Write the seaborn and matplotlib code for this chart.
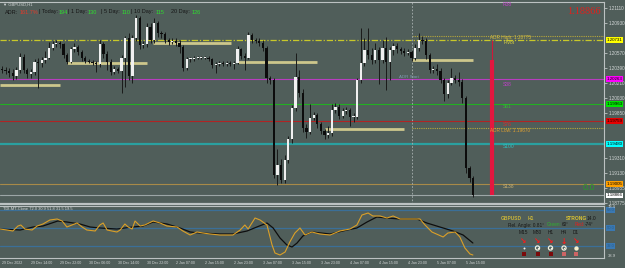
import numpy as np
import matplotlib
matplotlib.use("Agg")
import matplotlib.pyplot as plt
import seaborn as sns

# ---- GBPUSD H1 candles, bar 0 = 29 Dec 06:00 ----
opens = [1.2038, 1.2037, 1.2036, 1.2034, 1.2030, 1.2037, 1.2053, 1.2037, 1.2032, 1.2035,
         1.2047, 1.2046, 1.2049, 1.2052, 1.2064, 1.2068, 1.2070, 1.2068, 1.2055, 1.2047,
         1.2062, 1.2065, 1.2059, 1.2052, 1.2048, 1.2047, 1.2046, 1.2044, 1.2068, 1.2056,
         1.2047, 1.2035, 1.2038, 1.2036, 1.2052, 1.2075, 1.2030, 1.2075, 1.2100, 1.2067,
         1.2068, 1.2089, 1.2073, 1.2094, 1.2081, 1.2080, 1.2073, 1.2071, 1.2072, 1.2070,
         1.2065, 1.2040, 1.2050, 1.2050, 1.2052, 1.2052, 1.2052, 1.2052, 1.2050, 1.2043,
         1.2044, 1.2046, 1.2044, 1.2046, 1.2044, 1.2046, 1.2062, 1.2054, 1.2052, 1.2079,
         1.2073, 1.2072, 1.2070, 1.2064, 1.2027, 1.2025, 1.1911, 1.1923, 1.1905, 1.1929,
         1.1954, 1.1992, 1.2029, 1.2010, 1.1968, 1.1963, 1.1980, 1.1983, 1.1972, 1.1964,
         1.1959, 1.1962, 1.1989, 1.1993, 1.1982, 1.1988, 1.1989, 1.1981, 1.1981, 1.2025,
         1.2046, 1.2061, 1.2055, 1.2049, 1.2061, 1.2049, 1.2064, 1.2047, 1.2061, 1.2066,
         1.2062, 1.2060, 1.2058, 1.2059, 1.2052, 1.2064, 1.2073, 1.2072, 1.2055, 1.2037,
         1.2038, 1.2036, 1.2025, 1.2008, 1.2022, 1.2027, 1.2025, 1.2023, 1.2003, 1.1919,
         1.1908]
highs = [1.2042, 1.2041, 1.2039, 1.2038, 1.2041, 1.2058, 1.2056, 1.2040, 1.2038, 1.2050,
         1.2052, 1.2053, 1.2060, 1.2071, 1.2072, 1.2073, 1.2072, 1.2070, 1.2057, 1.2065,
         1.2070, 1.2067, 1.2061, 1.2054, 1.2050, 1.2049, 1.2048, 1.2073, 1.2071, 1.2060,
         1.2050, 1.2042, 1.2041, 1.2055, 1.2078, 1.2081, 1.2079, 1.2103, 1.2102, 1.2072,
         1.2093, 1.2093, 1.2100, 1.2096, 1.2084, 1.2083, 1.2076, 1.2075, 1.2076, 1.2073,
         1.2067, 1.2053, 1.2053, 1.2054, 1.2054, 1.2054, 1.2054, 1.2054, 1.2052, 1.2047,
         1.2048, 1.2048, 1.2048, 1.2048, 1.2048, 1.2066, 1.2064, 1.2057, 1.2083, 1.2081,
         1.2076, 1.2075, 1.2073, 1.2066, 1.2030, 1.2027, 1.1942, 1.1930, 1.1935, 1.1958,
         1.1995, 1.2057, 1.2037, 1.2014, 1.1972, 1.1996, 1.1987, 1.1986, 1.1975, 1.1966,
         1.1970, 1.1996, 1.1998, 1.1996, 1.1992, 1.1993, 1.1992, 1.1985, 1.2028, 1.2088,
         1.2075, 1.2088, 1.2063, 1.2070, 1.2065, 1.2073, 1.2077, 1.2065, 1.2070, 1.2070,
         1.2065, 1.2063, 1.2062, 1.2061, 1.2068, 1.2081, 1.2078, 1.2075, 1.2058, 1.2042,
         1.2044, 1.2039, 1.2028, 1.2025, 1.2040, 1.2031, 1.2035, 1.2026, 1.2006, 1.1922,
         1.1910]
lows = [1.2033, 1.2032, 1.2029, 1.2025, 1.2026, 1.2034, 1.2033, 1.2028, 1.2028, 1.2031,
        1.2016, 1.2041, 1.2045, 1.2050, 1.2061, 1.2065, 1.2064, 1.2052, 1.2044, 1.2045,
        1.2059, 1.2055, 1.2048, 1.2045, 1.2045, 1.2043, 1.2035, 1.2041, 1.2052, 1.2037,
        1.2031, 1.2032, 1.2033, 1.2010, 1.2017, 1.2025, 1.2022, 1.2072, 1.2062, 1.2064,
        1.2065, 1.2069, 1.2070, 1.2077, 1.2076, 1.2069, 1.2067, 1.2068, 1.2066, 1.2058,
        1.2036, 1.2037, 1.2047, 1.2048, 1.2050, 1.2050, 1.2050, 1.2048, 1.2040, 1.2033,
        1.2042, 1.2042, 1.2042, 1.2042, 1.2038, 1.2044, 1.2050, 1.2037, 1.2050, 1.2070,
        1.2069, 1.2066, 1.2060, 1.2022, 1.2020, 1.1907, 1.1899, 1.1901, 1.1902, 1.1925,
        1.1950, 1.1988, 1.2005, 1.1963, 1.1955, 1.1960, 1.1977, 1.1968, 1.1960, 1.1954,
        1.1955, 1.1958, 1.1985, 1.1978, 1.1979, 1.1984, 1.1970, 1.1975, 1.1978, 1.2022,
        1.2042, 1.2050, 1.2044, 1.2045, 1.2020, 1.2045, 1.2013, 1.2025, 1.2055, 1.2058,
        1.2056, 1.2054, 1.2055, 1.2048, 1.2049, 1.2060, 1.2068, 1.2050, 1.2033, 1.2034,
        1.2031, 1.2021, 1.2000, 1.2004, 1.2019, 1.2021, 1.2018, 1.1998, 1.1914, 1.1903,
        1.1885]
closes = [1.2037, 1.2036, 1.2034, 1.2030, 1.2037, 1.2053, 1.2037, 1.2032, 1.2035, 1.2047,
          1.2046, 1.2049, 1.2052, 1.2064, 1.2068, 1.2070, 1.2068, 1.2055, 1.2047, 1.2062,
          1.2065, 1.2059, 1.2052, 1.2048, 1.2047, 1.2046, 1.2044, 1.2068, 1.2056, 1.2047,
          1.2035, 1.2038, 1.2036, 1.2052, 1.2075, 1.2030, 1.2075, 1.2100, 1.2067, 1.2068,
          1.2089, 1.2073, 1.2094, 1.2081, 1.2080, 1.2073, 1.2071, 1.2072, 1.2070, 1.2065,
          1.2040, 1.2050, 1.2050, 1.2052, 1.2052, 1.2052, 1.2052, 1.2050, 1.2043, 1.2044,
          1.2046, 1.2044, 1.2046, 1.2044, 1.2046, 1.2062, 1.2054, 1.2052, 1.2079, 1.2073,
          1.2072, 1.2070, 1.2064, 1.2027, 1.2025, 1.1911, 1.1923, 1.1905, 1.1929, 1.1954,
          1.1992, 1.2029, 1.2010, 1.1968, 1.1963, 1.1980, 1.1983, 1.1972, 1.1964, 1.1959,
          1.1962, 1.1989, 1.1993, 1.1982, 1.1988, 1.1989, 1.1981, 1.1981, 1.2025, 1.2046,
          1.2061, 1.2055, 1.2049, 1.2061, 1.2049, 1.2064, 1.2047, 1.2061, 1.2066, 1.2062,
          1.2060, 1.2058, 1.2059, 1.2052, 1.2064, 1.2073, 1.2072, 1.2055, 1.2037, 1.2038,
          1.2036, 1.2025, 1.2008, 1.2022, 1.2027, 1.2025, 1.2023, 1.2003, 1.1919, 1.1908,
          1.1887]

date_ticks = [0, 8, 16, 24, 32, 40, 48, 56, 64, 72, 80, 88, 96, 104, 112, 120, 128]
date_labels = ["29 Dec 2022", "29 Dec 14:00", "29 Dec 22:00", "30 Dec 06:00", "30 Dec 14:00",
               "30 Dec 22:00", "2 Jan 07:00", "2 Jan 15:00", "2 Jan 23:00", "3 Jan 07:00",
               "3 Jan 15:00", "3 Jan 23:00", "4 Jan 07:00", "4 Jan 15:00", "4 Jan 23:00",
               "5 Jan 07:00", "5 Jan 15:00"]
price_ticks = [1.18775, 1.18955, 1.19130, 1.19310, 1.19850, 1.20030, 1.20210,
               1.20390, 1.20570, 1.20930, 1.21110]

# pivot / fib levels
level_names = ["Pivot", "S38", "S61", "S76", "S100", "S138"]
level_prices = [1.20731, 1.20263, 1.19963, 1.19759, 1.19480, 1.19005]
level_colors = ["#c8c82a", "#b83cc0", "#22b022", "#b02424", "#2aa0a0", "#a88a48"]
tag_colors = ["#ffff00", "#ff00ff", "#00e600", "#e60000", "#00ffff", "#ffa000"]
adr_high = 1.20775
adr_low = 1.19670
adr_start_bar = 113
bid = 1.18866

# previous session high/low segments
seg_start = [-0.5, 18, 41.7, 65, 89, 113]
seg_end = [16, 40, 63.2, 87, 111, 130]
seg_price = [1.2019, 1.2046, 1.2070, 1.2047, 1.1966, 1.2049]

# today range bar
range_bar = 135.2
range_pivot = 1.20731
range_high = 1.2049

# TDI indicator
tdi_px = [-0.6, 1.4, 3.0, 4.4, 5.2, 6.3, 8.3, 9.7, 11.3, 13.2, 15.2, 16.6, 17.9, 19.3, 20.7,
          22.1, 23.4, 25.7, 27.0, 27.9, 29.0, 30.3, 31.7, 32.6, 33.9, 34.8, 35.9, 36.7, 38.1,
          39.4, 41.7, 43.6, 45.5, 48.3, 49.9, 51.9, 53.8, 55.4, 57.4, 60.1, 63.7, 65.7, 67.0,
          67.9, 69.8, 71.2, 73.1, 74.5, 75.3, 76.7, 78.1, 79.4, 80.8, 82.2, 83.6, 85.5, 87.7,
          90.5, 93.2, 96.0, 97.9, 99.3, 101.0, 102.3, 104.3, 106.2, 107.9, 109.8, 112.6,
          115.3, 116.7, 118.6, 121.7, 123.0, 125.0, 126.3, 127.7, 129.1, 129.9]
tdi_price = [49, 48, 47, 52, 53, 49, 48, 52, 54, 58, 59, 57, 51, 53, 55,
             51, 48, 47, 53, 55, 48, 47, 46, 48, 54, 51, 49, 57, 52,
             53, 57, 55, 52, 51, 47, 43, 46, 45, 44, 43, 43, 48, 53,
             49, 60, 58, 53, 33, 25, 23, 26, 36, 45, 50, 43, 46, 44,
             43, 47, 49, 53, 63, 65, 62, 62, 60, 62, 59, 59,
             59, 53, 46, 41, 45, 46, 41, 30, 24, 23]
tdi_sx = [-0.6, 5.0, 8.6, 11.3, 15.4, 17.9, 21.5, 24.3, 27.0, 31.7, 36.1, 38.9, 41.7, 45.5,
          49.1, 51.9, 54.6, 60.1, 63.7, 67.6, 70.3, 73.1, 74.8, 76.7, 78.6, 80.0, 81.4, 83.0,
          85.5, 90.5, 95.2, 97.9, 100.7, 103.4, 106.2, 109.8, 114.5, 117.2, 120.8, 124.4,
          127.2, 129.9]
tdi_signal = [49, 48, 51, 52, 57, 56, 54, 51, 50, 49, 51, 52, 56, 54,
              50, 46, 45, 44, 44, 47, 51, 55, 50, 40, 33, 31, 35, 42,
              46, 44, 48, 50, 56, 61, 60, 59, 59, 55, 51, 47,
              43, 35]
tdi_levels = [68, 50, 32]
tdi_level_tags = ["68.0", "50.0", "32.0"]

BG = "#505e5a"
LIGHT = "#d4d8d8"
DARK = "#161616"
sns.set_theme(style="dark", rc={"axes.facecolor": BG, "figure.facecolor": BG})
plt.rcParams["font.family"] = ["Liberation Sans", "DejaVu Sans"]

W, H = 625, 268
fig = plt.figure(figsize=(W / 100, H / 100), dpi=100)
ax = fig.add_axes([0, 1 - 204 / H, 604 / W, 202 / H])
ind = fig.add_axes([0, 1 - 258 / H, 604 / W, 52 / H])

xlim = (-0.55, 166.07)

# --- price panel ---
ax.set_xlim(*xlim)
ax.set_ylim(1.18763, 1.21187)
for p, col in zip(level_prices, level_colors):
    if p == level_prices[0]:
        ax.axhline(p, color=col, lw=0.9, ls=(0, (5, 1.5, 1, 1.5)), zorder=1)
    elif col == "#2aa0a0":
        ax.axhline(p, color=col, lw=1.6, zorder=1)
    else:
        ax.axhline(p, color=col, lw=0.8, zorder=1)
ax.axhline(bid, color="#9ca6a6", lw=0.8, zorder=1)
ax.hlines([adr_high, adr_low], adr_start_bar, xlim[1], color="#b8a83a", lw=0.8, ls=(0, (1, 1)), zorder=1)
ax.axvline(adr_start_bar, color="#a9b2b2", lw=0.6, ls=(0, (2, 2)), zorder=1)
ax.hlines(seg_price, seg_start, seg_end, color="#cdc78c", lw=2, zorder=2)

x = np.arange(len(closes))
o = np.array(opens)
c = np.array(closes)
up = c >= o
ax.vlines(x, lows, highs, color="#1a1a1a", lw=0.7, zorder=3)
ax.bar(x, np.maximum(np.abs(c - o), 0.00012), bottom=np.minimum(o, c), width=0.62,
       color=np.where(up, "#f0f0f0", "#0c0c0c"), linewidth=0, zorder=4)

ax.vlines(range_bar, range_high, range_pivot, color="#d01838", lw=0.8, zorder=5)
ax.vlines(range_bar, bid, range_high, color="#e3173f", lw=3, zorder=5)

ax.set_xticks([])
ax.yaxis.tick_right()
ax.set_yticks(price_ticks)
ax.set_yticklabels([f"{p:.5f}" for p in price_ticks])
ax.tick_params(axis="y", colors=LIGHT, labelsize=3.3, length=2, width=0.5, pad=1.5)
for p, col in zip(level_prices + [bid], tag_colors + ["#ffffff"]):
    ax.text(1.004, p, f"{p:.5f}", transform=ax.get_yaxis_transform(), fontsize=3.2,
            color="#000000", va="center", ha="left",
            bbox=dict(facecolor=col, edgecolor="none", pad=0.6))
for name, sp in ax.spines.items():
    sp.set_color("#bcc2c2")
    sp.set_linewidth(0.8)
ax.spines["left"].set_visible(False)
ax.spines["bottom"].set_linewidth(1.6)

# --- TDI panel ---
ind.set_xlim(*xlim)
ind.set_ylim(20, 72)
for lv in tdi_levels:
    ind.axhline(lv, color="#3b6f98", lw=0.9, zorder=1)
sns.lineplot(x=tdi_sx, y=tdi_signal, ax=ind, color="#0e0e0e", lw=0.9, zorder=3)
sns.lineplot(x=tdi_px, y=tdi_price, ax=ind, color="#dba028", lw=0.8, zorder=4)
ind.set_yticks([])
ind.set_xticks(date_ticks)
ind.set_xticklabels(date_labels)
for lbl in ind.get_xticklabels():
    lbl.set_ha("left")
ind.tick_params(axis="x", colors=LIGHT, labelsize=2.6, length=1.5, width=0.5, pad=1)
for lv, t in zip(tdi_levels, tdi_level_tags):
    ind.text(1.004, lv, t, transform=ind.get_yaxis_transform(), fontsize=3.0,
             color="#2a5d88", va="center", ha="left",
             bbox=dict(facecolor="#3a78b2", edgecolor="none", pad=0.5))
ind.text(1.006, 71, "78.4", transform=ind.get_yaxis_transform(), fontsize=3.0,
         color=LIGHT, va="center", ha="left")
ind.text(1.006, 22, "38.9", transform=ind.get_yaxis_transform(), fontsize=3.0,
         color=LIGHT, va="center", ha="left")
for name, sp in ind.spines.items():
    sp.set_color("#bcc2c2")
    sp.set_linewidth(0.8)
ind.spines["left"].set_visible(False)

# --- overlay texts in pixel coordinates ---
ov = fig.add_axes([0, 0, 1, 1], facecolor="none")
ov.set_xlim(0, W)
ov.set_ylim(H, 0)
ov.axis("off")


def put(px, py, s, color, size, **kw):
    ov.text(px, py, s, color=color, fontsize=size, va="center", **kw)


put(3, 4.5, "▼ GBPUSD,H1", LIGHT, 3.0)
adr_parts = [("ADR:", 5, DARK), ("161.7%", 20, "#e23a2a"), ("| Today:", 39, DARK),
             ("194", 59, "#2ee02e"), ("| 1 Day:", 68.5, DARK), ("130", 88, "#2ee02e"),
             ("| 5 Day:", 101, DARK), ("110", 122, "#2ee02e"), ("| 10 Day:", 131, DARK),
             ("115", 156, "#2ee02e"), ("20 Day:", 171, DARK), ("126", 192, "#2ee02e")]
for s, px, col in adr_parts:
    put(px, 12, s, col, 4.0)

put(601, 12, "1.18866", "#e0201c", 7.5, ha="right", family="Liberation Serif")
put(583, 187, "0.0", "#2a9a2a", 6.5)

put(503, 4, "R38", "#c040c8", 3.6)
put(490, 37.5, "ADR High: 1.20775", "#d8c040", 3.4)
put(504, 43, "Pivot", "#d8d040", 3.6)
put(503, 84, "S38", "#c040c8", 3.6)
put(503, 107, "S61", "#30c030", 3.6)
put(503, 125, "S76", "#d03030", 3.6)
put(490, 131, "ADR Low: 1.19670", "#e0a030", 3.4)
put(503, 147, "S100", "#30c0c0", 3.6)
put(503, 187, "S138", "#c8b070", 3.6)
put(399, 77, "ADR Start", "#7e9cb0", 3.2)

put(3, 209.5, "TDI-MT-Clone 72.0 30.9 51.8 31.5 19.5", LIGHT, 2.9)

put(501, 219, "GBPUSD", "#c8b43a", 3.5, weight="bold")
put(528, 219, "H1", "#c8b43a", 3.5, weight="bold")
put(566, 219, "STRONG", "#dcc430", 3.5, weight="bold")
put(587, 219, "14.0", DARK, 3.5)
put(508, 225, "Rel. Angle: 0.81°", DARK, 3.4)
put(547, 225, "Green:", "#30b030", 3.4)
put(562, 225, "60°", DARK, 3.4)
put(575, 225, "Red:", "#e02020", 3.4)
put(585, 225, "-74°", DARK, 3.4)

tf_names = ["M15", "M30", "H1", "H4", "D1"]
tf_x = [523.5, 537.5, 550.5, 564, 576]
tf_arrow = ["↘", "↘", "↘", "↓", "↘"]
tf_square = ["#7a0a0a", "#7a0a0a", "#7a0a0a", "#cc6464", "#cc6464"]
for name, tx, arr, sq in zip(tf_names, tf_x, tf_arrow, tf_square):
    put(tx, 233, name, DARK, 3.4, ha="center")
    put(tx, 241, arr, "#ff1a1a", 5.5, ha="center", weight="bold", family="DejaVu Sans")
    ov.scatter([tx], [254], s=7, marker="s", color=sq, linewidths=0)
ov.scatter([tf_x[0]], [248], s=2, color="#f0f0f0", linewidths=0)
ov.scatter(tf_x[1:4], [248] * 3, s=9, facecolor="none", edgecolor="#f0f0e0", linewidths=0.9)
ov.scatter(tf_x[1:4], [248] * 3, s=1, color="#f0f0e0", linewidths=0)
ov.scatter([tf_x[4]], [248], s=10, color="#f4eecc", linewidths=0)

fig.savefig("out.png", dpi=100, facecolor=BG)
